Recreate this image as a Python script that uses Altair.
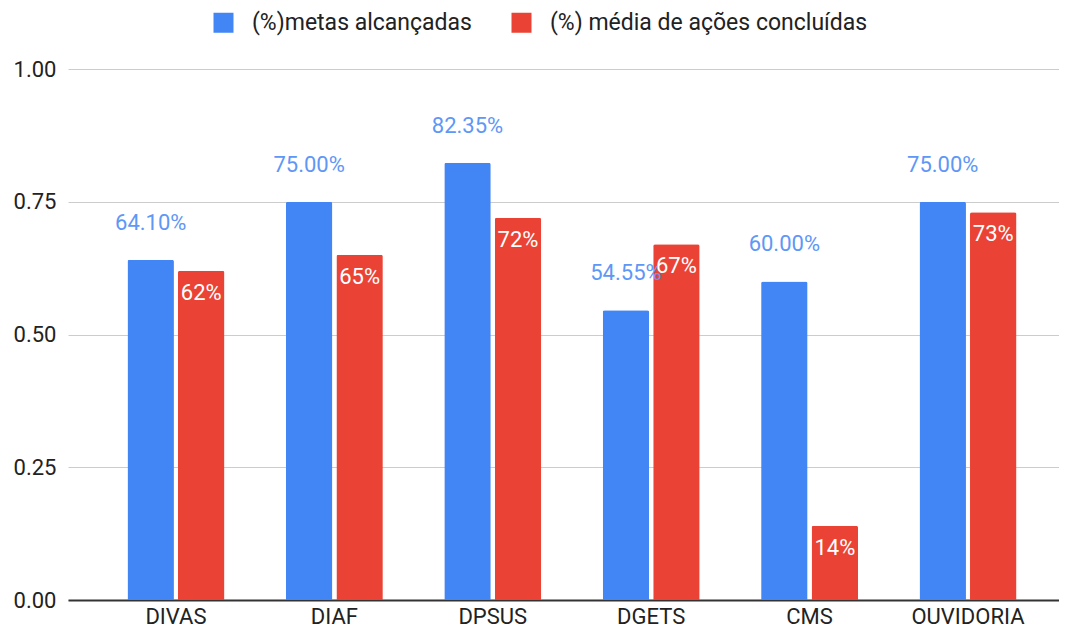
import altair as alt
import pandas as pd

categories = ["DIVAS", "DIAF", "DPSUS", "DGETS", "CMS", "OUVIDORIA"]
metas = [0.6410, 0.75, 0.8235, 0.5455, 0.60, 0.75]
acoes = [0.62, 0.65, 0.72, 0.67, 0.14, 0.73]
series_names = ["(%)metas alcançadas", "(%) média de ações concluídas"]
colors = ["#4285F4", "#EA4335"]
y_ticks = [0, 0.25, 0.5, 0.75, 1.0]

rows = []
for c, m, a in zip(categories, metas, acoes):
    rows.append({"cat": c, "serie": series_names[0], "valor": m, "label": f"{m*100:.2f}%"})
    rows.append({"cat": c, "serie": series_names[1], "valor": a, "label": f"{a*100:.0f}%"})
df = pd.DataFrame(rows)

x = alt.X(
    "cat:N", sort=categories,
    scale=alt.Scale(paddingInner=0.388, paddingOuter=0.322, align=0.583),
    axis=alt.Axis(title=None, labelAngle=0, ticks=False, labelFontSize=22,
                  labelColor="#222222", labelPadding=6, domainColor="#333333",
                  domainWidth=2, grid=False),
)
xo = alt.XOffset("serie:N", sort=series_names, scale=alt.Scale(paddingInner=0.08))
y = alt.Y(
    "valor:Q", scale=alt.Scale(domain=[0, 1], nice=False),
    axis=alt.Axis(values=y_ticks, format=".2f", title=None, ticks=False, domain=False,
                  labelFontSize=22, labelColor="#222222", labelPadding=12,
                  gridColor="#cccccc", gridWidth=1),
)

base = alt.Chart(df)

bars = base.mark_bar(cornerRadiusTopLeft=2, cornerRadiusTopRight=2).encode(
    x=x, xOffset=xo, y=y,
    color=alt.Color(
        "serie:N", sort=series_names,
        scale=alt.Scale(domain=series_names, range=colors),
        legend=alt.Legend(
            title=None, orient="none", legendX=144, legendY=-58,
            direction="horizontal", symbolType="square", symbolSize=400,
            symbolStrokeWidth=0, labelFontSize=23, labelColor="#222222",
            labelOffset=17, columnPadding=38, labelLimit=0,
        ),
    ),
)

blue_labels = base.transform_filter(
    alt.datum.serie == series_names[0]
).mark_text(dy=-37, fontSize=22, color="#5e97f6", baseline="middle").encode(
    x=x, xOffset=xo, y=y, text="label:N"
)

red_labels = base.transform_filter(
    alt.datum.serie == series_names[1]
).mark_text(dy=22, fontSize=22, color="#ffffff", baseline="middle").encode(
    x=x, xOffset=xo, y=y, text="label:N"
)

chart = alt.layer(bars, blue_labels, red_labels).properties(
    width=991, height=531,
    autosize=alt.AutoSizeParams(type="none"),
    padding={"left": 60, "top": 61, "right": 0, "bottom": 30},
    background="white",
).configure(font="Roboto").configure_view(stroke=None)

chart.save("out.html", embed_options={"renderer": "svg", "actions": False})
